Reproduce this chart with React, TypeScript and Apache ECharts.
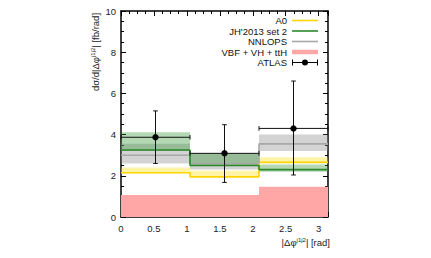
import React, { useEffect, useRef } from "react";
import * as echarts from "echarts";

// Bin edges of |Δφ_j1j2| [rad]
const binEdges = [0, 1.0472, 2.0944, 3.1416];
const binCenters = [0.5236, 1.5708, 2.618];

// A0
const a0Central = [2.15, 1.95, 2.65];
const a0Low = [2.12, 1.95, 2.62];
const a0High = [2.4, 2.25, 2.9];
// JH'2013 set 2
const jhCentral = [3.25, 2.5, 2.3];
const jhLow = [3.2, 2.5, 2.2];
const jhHigh = [4.12, 3.1, 2.55];
// NNLOPS
const nnCentral = [3.0, 2.6, 3.55];
const nnLow = [2.6, 2.3, 3.2];
const nnHigh = [3.55, 3.1, 4.0];
// VBF + VH + ttH
const vbfValues = [1.07, 1.07, 1.47];
// ATLAS
const atlasValues = [3.87, 3.09, 4.3];
const atlasLow = [2.6, 1.68, 2.04];
const atlasHigh = [5.15, 4.48, 6.6];

const FONT = "Liberation Sans, Arial, sans-serif";
const LINE_ICON = "path://M0,0 L26,0 L26,1.6 L0,1.6 Z";

function stepData(vals: number[]) {
  const d: number[][] = vals.map((v, i) => [binEdges[i], v]);
  d.push([binEdges[binEdges.length - 1], vals[vals.length - 1]]);
  return d;
}
function bandData(lo: number[], hi: number[]) {
  return lo.map((l, i) => [binEdges[i], binEdges[i + 1], l, hi[i]]);
}
function bandSeries(name: string, lo: number[], hi: number[], fill: string) {
  return {
    type: "custom",
    name,
    data: bandData(lo, hi),
    encode: { x: [0, 1], y: [2, 3] },
    renderItem: (params: any, api: any) => {
      const p1 = api.coord([api.value(0), api.value(3)]);
      const p2 = api.coord([api.value(1), api.value(2)]);
      return {
        type: "rect",
        shape: { x: p1[0], y: p1[1], width: p2[0] - p1[0], height: p2[1] - p1[1] },
        style: { fill },
      };
    },
    z: 2,
  };
}
function lineSeries(name: string, vals: number[], color: string) {
  return {
    type: "line",
    name,
    data: stepData(vals),
    step: "end",
    symbol: "none",
    color,
    lineStyle: { color, width: 1.6 },
    z: 3,
  };
}

const mkX = (pos: string, labels: boolean) => ({
  type: "value",
  min: 0,
  max: 3.1416,
  interval: 0.5,
  position: pos,
  axisLine: { show: true, onZero: false, lineStyle: { color: "#000", width: 1.5 } },
  axisTick: { show: true, inside: true, length: 5, lineStyle: { color: "#000", width: 1 } },
  minorTick: { show: true, splitNumber: 4, length: 3, lineStyle: { color: "#000", width: 1 } },
  axisLabel: { show: labels, margin: 6, fontSize: 9.5, color: "#222", fontFamily: FONT, showMaxLabel: false },
  splitLine: { show: false },
  minorSplitLine: { show: false },
});
const mkY = (pos: string, labels: boolean) => ({
  type: "value",
  min: 0,
  max: 10,
  interval: 2,
  position: pos,
  axisLine: { show: true, onZero: false, lineStyle: { color: "#000", width: 1.5 } },
  axisTick: { show: true, inside: true, length: 5, lineStyle: { color: "#000", width: 1 } },
  minorTick: { show: true, splitNumber: 4, length: 3, lineStyle: { color: "#000", width: 1 } },
  axisLabel: { show: labels, margin: 5, fontSize: 9.5, color: "#222", fontFamily: FONT },
  splitLine: { show: false },
  minorSplitLine: { show: false },
});

export default function App() {
  const ref = useRef<HTMLDivElement>(null);
  useEffect(() => {
    document.body.style.margin = "0";
    if (!ref.current) return;
    const chart = echarts.init(ref.current, undefined, { renderer: "svg" });
    const atlasData = atlasValues.map((v, i) => [binCenters[i], v, atlasLow[i], atlasHigh[i], binEdges[i], binEdges[i + 1]]);
    const option: any = {
      animation: false,
      backgroundColor: "#fff",
      grid: { left: 121, top: 11, width: 207, height: 206, containLabel: false },
      xAxis: [mkX("bottom", true), mkX("top", false)],
      yAxis: [mkY("left", true), mkY("right", false)],
      legend: {
        orient: "vertical",
        right: 113,
        top: 15.5,
        align: "right",
        itemWidth: 26,
        itemHeight: 10,
        itemGap: 0.5,
        padding: 0,
        selectedMode: false,
        textStyle: { fontSize: 9.5, color: "#111", fontFamily: FONT, lineHeight: 10 },
        data: [
          { name: "A0", icon: LINE_ICON, itemStyle: { color: "#ffd400", borderWidth: 0 } },
          { name: "JH'2013 set 2", icon: LINE_ICON, itemStyle: { color: "#2a8a2a", borderWidth: 0 } },
          { name: "NNLOPS", icon: LINE_ICON, itemStyle: { color: "#a8a8a8", borderWidth: 0 } },
          { name: "VBF + VH + ttH", icon: "path://M0,0 L26,0 L26,4.5 L0,4.5 Z", itemStyle: { color: "#ffa6a6", borderWidth: 0 } },
          {
            name: "ATLAS",
            icon: "path://M0,0 L1,0 L1,2.5 L25,2.5 L25,0 L26,0 L26,6 L25,6 L25,3.5 L1,3.5 L1,6 L0,6 Z M13,0 A3,3 0 1 1 13,6 A3,3 0 1 1 13,0 Z",
            itemStyle: { color: "#000", borderWidth: 0 },
          },
        ],
      },
      graphic: [
        {
          type: "text",
          x: 95,
          y: 52,
          rotation: Math.PI / 2,
          style: {
            text: "dσ/d|Δφ{sup|j1j2}| [fb/rad]",
            fontSize: 9.5,
            fontFamily: FONT,
            fill: "#222",
            align: "center",
            verticalAlign: "middle",
            rich: { sup: { fontSize: 6, verticalAlign: "top", lineHeight: 8, fontFamily: FONT, fill: "#222" } },
          },
        },
        {
          type: "text",
          x: 330,
          y: 242,
          style: {
            text: "|Δφ{sup|j1j2}| [rad]",
            fontSize: 9.5,
            fontFamily: FONT,
            fill: "#222",
            align: "right",
            verticalAlign: "middle",
            rich: { sup: { fontSize: 6, verticalAlign: "top", lineHeight: 8, fontFamily: FONT, fill: "#222" } },
          },
        },
      ],
      series: [
        {
          type: "custom",
          name: "VBF + VH + ttH",
          data: vbfValues.map((v, i) => [binEdges[i], binEdges[i + 1], 0, v]),
          encode: { x: [0, 1], y: [2, 3] },
          color: "#ffa6a6",
          renderItem: (params: any, api: any) => {
            const p1 = api.coord([api.value(0), api.value(3)]);
            const p2 = api.coord([api.value(1), api.value(2)]);
            return {
              type: "rect",
              shape: { x: p1[0], y: p1[1], width: p2[0] - p1[0], height: p2[1] - p1[1] },
              style: { fill: "#ffa6a6" },
            };
          },
          z: 1,
        },
        bandSeries("_a0band", a0Low, a0High, "rgba(255,220,0,0.35)"),
        bandSeries("_nnband", nnLow, nnHigh, "rgba(140,140,140,0.38)"),
        bandSeries("_jhband", jhLow, jhHigh, "rgba(40,140,40,0.35)"),
        lineSeries("A0", a0Central, "#ffd400"),
        lineSeries("NNLOPS", nnCentral, "#a8a8a8"),
        lineSeries("JH'2013 set 2", jhCentral, "#2a8a2a"),
        {
          type: "custom",
          name: "ATLAS",
          data: atlasData,
          encode: { x: 0, y: 1 },
          color: "#000",
          z: 5,
          renderItem: (params: any, api: any) => {
            const x = api.value(0), y = api.value(1);
            const c = api.coord([x, y]);
            const pl = api.coord([x, api.value(2)]);
            const ph = api.coord([x, api.value(3)]);
            const pxl = api.coord([api.value(4), y]);
            const pxh = api.coord([api.value(5), y]);
            const cap = 2.3;
            const ls = { stroke: "#111", lineWidth: 1 };
            return {
              type: "group",
              children: [
                { type: "line", shape: { x1: pl[0], y1: pl[1], x2: ph[0], y2: ph[1] }, style: ls },
                { type: "line", shape: { x1: pl[0] - cap, y1: pl[1], x2: pl[0] + cap, y2: pl[1] }, style: ls },
                { type: "line", shape: { x1: ph[0] - cap, y1: ph[1], x2: ph[0] + cap, y2: ph[1] }, style: ls },
                { type: "line", shape: { x1: pxl[0], y1: pxl[1], x2: pxh[0], y2: pxh[1] }, style: ls },
                { type: "line", shape: { x1: pxl[0], y1: pxl[1] - cap, x2: pxl[0], y2: pxl[1] + cap }, style: ls },
                { type: "line", shape: { x1: pxh[0], y1: pxh[1] - cap, x2: pxh[0], y2: pxh[1] + cap }, style: ls },
                { type: "circle", shape: { cx: c[0], cy: c[1], r: 3.2 }, style: { fill: "#000" } },
              ],
            };
          },
        },
      ],
    };
    chart.setOption(option);
    return () => chart.dispose();
  }, []);
  return <div ref={ref} style={{ width: 431, height: 258 }} />;
}
